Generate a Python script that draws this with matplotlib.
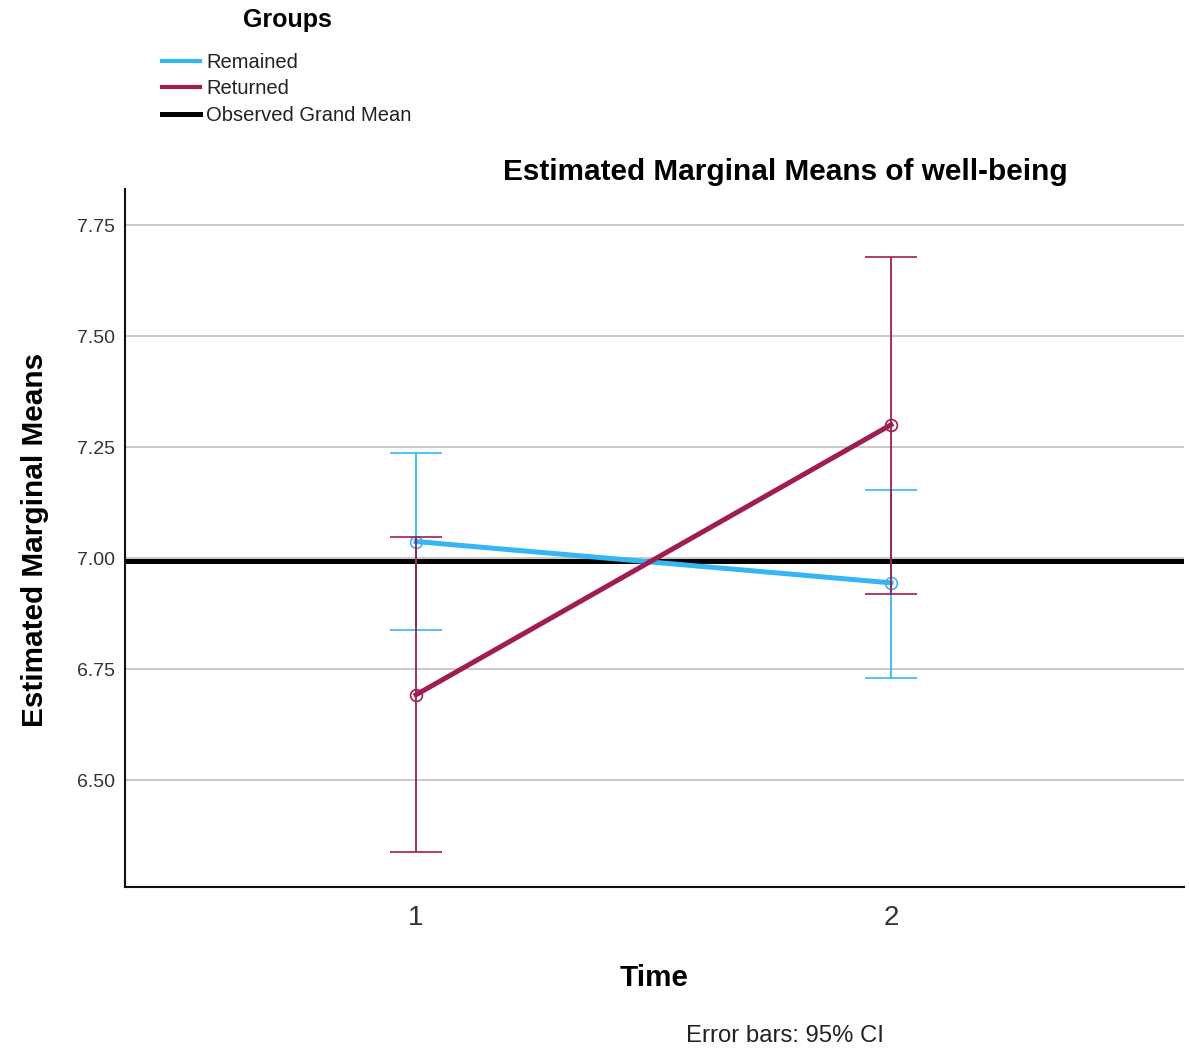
import matplotlib.pyplot as plt
from matplotlib.lines import Line2D

# data
time = [1, 2]
time_labels = ["1", "2"]
groups = ["Remained", "Returned"]
colors = ["#35B6F4", "#A01C52"]

remained_mean = [7.038, 6.945]
remained_lo = [6.838, 6.731]
remained_hi = [7.238, 7.154]

returned_mean = [6.693, 7.301]
returned_lo = [6.339, 6.920]
returned_hi = [7.048, 7.678]

grand_mean = 6.994
yticks = [6.50, 6.75, 7.00, 7.25, 7.50, 7.75]

plt.rcParams['font.family'] = ['Liberation Sans', 'DejaVu Sans']

fig = plt.figure(figsize=(11.89, 10.49), dpi=100)
ax = fig.add_axes([125 / 1189, 1 - 887 / 1049, (1184 - 125) / 1189, (887 - 189) / 1049])

ax.set_xlim(0.387, 2.617)
ax.set_ylim(6.260, 7.832)
ax.set_yticks(yticks)
ax.set_yticklabels([f"{v:.2f}" for v in yticks])
ax.set_xticks(time)
ax.set_xticklabels(time_labels)
ax.tick_params(axis='y', length=0, pad=7, labelsize=14, labelcolor='#333333')
ax.tick_params(axis='x', length=0, pad=13, labelsize=20, labelcolor='#333333')
ax.grid(axis='y', color='#BBBBBB', lw=1.1)
ax.set_axisbelow(True)
for s in ['top', 'right']:
    ax.spines[s].set_visible(False)
for s in ['left', 'bottom']:
    ax.spines[s].set_linewidth(1.5)
    ax.spines[s].set_color('#111111')

ax.axhline(grand_mean, color='black', lw=3.6, zorder=2)

series = [(remained_mean, remained_lo, remained_hi), (returned_mean, returned_lo, returned_hi)]
for i, (m, lo, hi) in enumerate(series):
    err = [[a - b for a, b in zip(m, lo)], [b - a for a, b in zip(m, hi)]]
    ax.errorbar(time, m, yerr=err, color=colors[i], lw=3.6, elinewidth=1.3,
                capsize=19, capthick=1.3, marker='o', ms=8.5, mfc='none',
                mec=colors[i], mew=1.2, zorder=3 + i)

fig.text(785 / 1189, 1 - 172 / 1049, "Estimated Marginal Means of well-being",
         ha='center', va='center', fontsize=21.4, fontweight='bold')
fig.text(654 / 1189, 1 - 978 / 1049, "Time", ha='center', va='center',
         fontsize=21.3, fontweight='bold')
fig.text(35 / 1189, 1 - 540 / 1049, "Estimated Marginal Means", ha='center',
         va='center', rotation=90, fontsize=21.4, fontweight='bold')
fig.text(785 / 1189, 1 - 1036 / 1049, "Error bars: 95% CI", ha='center',
         va='center', fontsize=17.2, color='#222222')

fig.text(287 / 1189, 1 - 20 / 1049, "Groups", ha='center', va='center',
         fontsize=18, fontweight='bold')
handles = [Line2D([], [], color=colors[0], lw=3),
           Line2D([], [], color=colors[1], lw=3),
           Line2D([], [], color='black', lw=3.6)]
fig.legend(handles, groups + ["Observed Grand Mean"], loc='upper left',
           bbox_to_anchor=(162 / 1189, 1 - 53 / 1049), frameon=False,
           fontsize=14.5, handlelength=1.9, handletextpad=0.3,
           labelspacing=0.37, borderpad=0, borderaxespad=0,
           labelcolor='#222222')

fig.savefig("out.png", dpi=100, facecolor='white')
